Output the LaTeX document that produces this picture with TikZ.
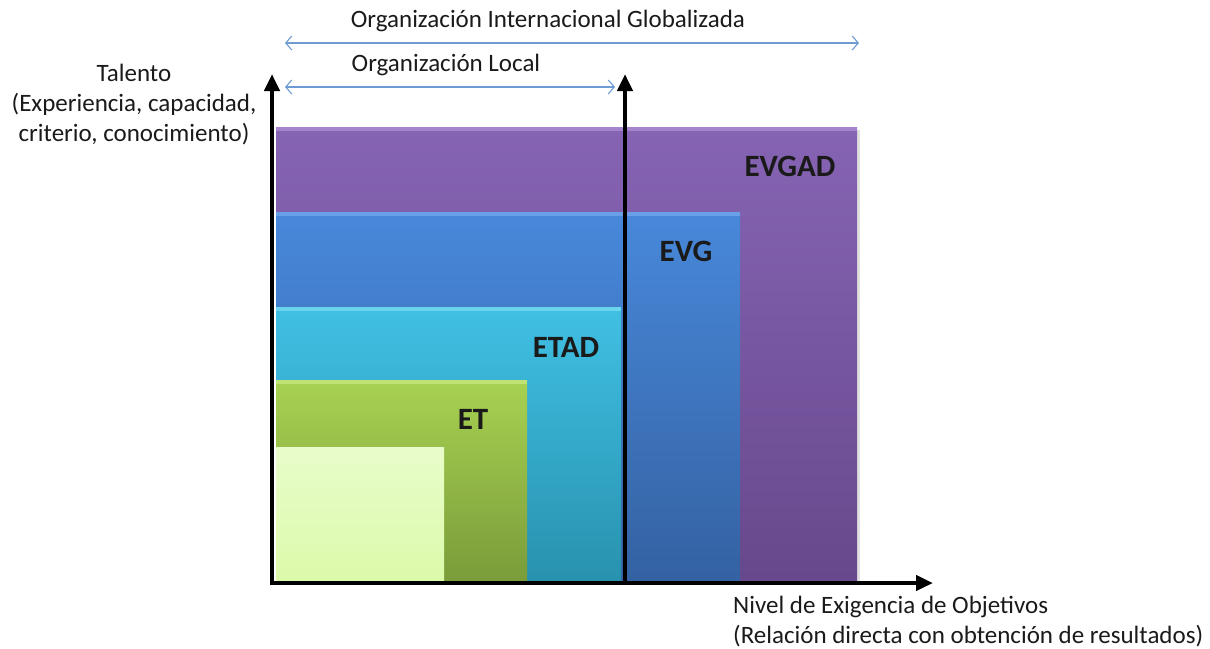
\documentclass[tikz,border=0pt]{standalone}
\usepackage{fontspec}
\setmainfont{Carlito}
\usetikzlibrary{arrows.meta}
\definecolor{txt}{HTML}{1A1A1A}
\definecolor{arrblue}{HTML}{6E9BD3}
\definecolor{purT}{RGB}{134,100,180}
\definecolor{purB}{RGB}{104,72,140}
\definecolor{purL}{RGB}{165,132,205}
\definecolor{bluT}{RGB}{72,136,218}
\definecolor{bluB}{RGB}{52,98,162}
\definecolor{bluL}{RGB}{105,160,232}
\definecolor{cyaT}{RGB}{64,192,228}
\definecolor{cyaB}{RGB}{40,146,174}
\definecolor{cyaL}{RGB}{105,212,238}
\definecolor{grnT}{RGB}{168,210,82}
\definecolor{grnB}{RGB}{122,156,58}
\definecolor{grnL}{RGB}{190,226,115}
\definecolor{ltT}{RGB}{232,252,202}
\definecolor{ltB}{RGB}{220,250,170}
\tikzset{
  axis/.style={line width=4.5pt,-{Triangle[width=15pt,length=17pt]}},
  span/.style={arrblue,line width=1.1pt,{Straight Barb[length=6pt,width=14pt]}-{Straight Barb[length=6pt,width=14pt]}},
  lbl/.style={font=\fontsize{25}{30}\selectfont,text=txt,inner sep=0pt},
  boxlbl/.style={font=\fontsize{31}{36}\selectfont\bfseries,text=txt,inner sep=0pt}
}
\begin{document}
\begin{tikzpicture}[x=1pt,y=-1pt]
\useasboundingbox (0,0) rectangle (1210,648);
% boxes
\fill[black!12] (279,130) rectangle (860,583);
\shade[top color=purT, bottom color=purB] (276,127) rectangle (857,580);
\fill[purL] (276,127) rectangle (857,131);
\shade[top color=bluT, bottom color=bluB] (276,212) rectangle (740,580);
\fill[bluL] (276,212) rectangle (740,216);
\shade[top color=cyaT, bottom color=cyaB] (276,307) rectangle (621,580);
\fill[cyaL] (276,307) rectangle (621,311);
\shade[top color=grnT, bottom color=grnB] (276,380) rectangle (527,580);
\fill[grnL] (276,380) rectangle (527,384);
\shade[top color=ltT, bottom color=ltB] (276,447) rectangle (444,580);
% labels
\node[boxlbl] (evgad) at (790,166) {EVGAD};
\node[boxlbl] (evg) at (686,251) {EVG};
\node[boxlbl] (etad) at (566,347) {ETAD};
\node[boxlbl] (et) at (473,419) {ET};
% axes
\coordinate (o) at (272,583);
\coordinate (ytop) at (272,74);
\coordinate (xend) at (933,583);
\coordinate (m) at (625,583);
\coordinate (mtop) at (625,74);
\draw[axis] ([xshift=-2.25pt]o) -- (xend);
\draw[axis] ([yshift=2.25pt]o) -- (ytop);
\draw[axis] (m) -- (mtop);
% spans
\coordinate (g1) at (285,43);
\coordinate (g2) at (859,43);
\coordinate (l1) at (285,87);
\coordinate (l2) at (615,87);
\draw[span] (g1) -- (g2);
\draw[span] (l1) -- (l2);
\node[lbl] (glob) at (548,21) {Organización Internacional Globalizada};
\node[lbl] (loc) at (446,65) {Organización Local};
\node[lbl,align=center] (tal) at (134,105) {Talento\\(Experiencia, capacidad,\\criterio, conocimiento)};
\node[lbl,align=left,anchor=north west] (niv) at (733,596) {Nivel de Exigencia de Objetivos\\(Relación directa con obtención de resultados)};
\end{tikzpicture}
\end{document}
